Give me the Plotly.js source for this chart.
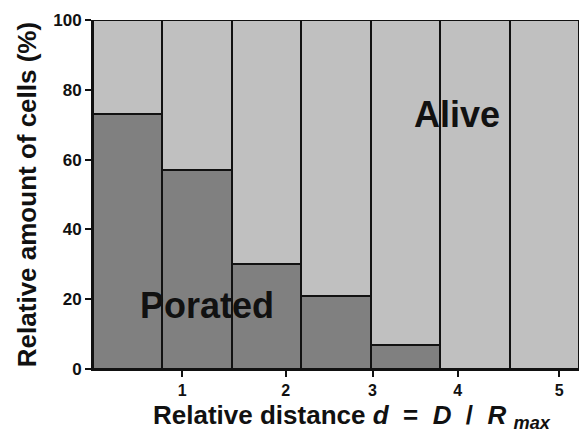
<!DOCTYPE html>
<html>
<head>
<meta charset="utf-8">
<script src="https://cdn.plot.ly/plotly-3.0.1.min.js"></script>
<style>html,body{margin:0;padding:0;background:#fff;}#chart{width:579px;height:433px;}</style>
</head>
<body>
<div id="chart"></div>
<script>
// Bin index of each bar (7 distance bins)
const bins = [0, 1, 2, 3, 4, 5, 6];
// Percent of porated cells per bin
const porated = [73, 57, 30, 21, 7, 0, 0];
// Percent of alive cells per bin (remainder to 100%)
const alive = [27, 43, 70, 79, 93, 100, 100];
// x tick labels and where they fall on the bin scale
const xTickText = ['1', '2', '3', '4', '5'];
const xTickPos = [0.784, 2.275, 3.526, 4.753, 6.214];
const yTicks = [0, 20, 40, 60, 80, 100];

const font = 'Liberation Sans, Arial, sans-serif';

const traces = [
  {
    type: 'bar', x: bins, y: porated, width: 1,
    marker: {color: '#808080', line: {color: '#111', width: 2}},
    hoverinfo: 'skip', name: 'Porated'
  },
  {
    type: 'bar', x: bins, y: alive, width: 1,
    marker: {color: '#c0c0c0', line: {color: '#111', width: 2}},
    hoverinfo: 'skip', name: 'Alive'
  }
];

const layout = {
  width: 579, height: 433,
  margin: {l: 93, r: 0, t: 20, b: 64},
  barmode: 'stack', bargap: 0,
  showlegend: false,
  paper_bgcolor: '#ffffff', plot_bgcolor: '#ffffff',
  font: {family: font, color: '#111'},
  xaxis: {
    range: [-0.5, 6.5],
    tickmode: 'array', tickvals: xTickPos, ticktext: xTickText,
    ticks: 'outside', ticklen: 6, tickwidth: 2, tickcolor: '#111',
    tickfont: {family: font, size: 16, color: '#111', weight: 'bold'},
    showgrid: false, zeroline: false,
    showline: true, linecolor: '#111', linewidth: 2
  },
  yaxis: {
    range: [0, 100],
    tickmode: 'array', tickvals: yTicks,
    ticks: 'outside', ticklen: 6, tickwidth: 2, tickcolor: '#111',
    tickfont: {family: font, size: 17, color: '#111', weight: 'bold'},
    showgrid: false, zeroline: false,
    showline: true, linecolor: '#111', linewidth: 2,
    title: {
      text: 'Relative amount of cells (%)',
      font: {family: font, size: 26, color: '#111', weight: 'bold'},
      standoff: 9
    }
  },
  annotations: [
    {
      text: 'Relative distance <i>d</i>  =  <i>D</i>  /  <i>R</i> <sub><i>max</i></sub>',
      xref: 'paper', yref: 'paper', x: 0.533, y: -0.137,
      xanchor: 'center', yanchor: 'middle', showarrow: false,
      font: {family: font, size: 26, color: '#111', weight: 'bold'}
    },
    {
      text: 'Alive', xref: 'paper', yref: 'y', x: 0.749, y: 73,
      xanchor: 'center', yanchor: 'middle', showarrow: false,
      font: {family: font, size: 36, color: '#111', weight: 'bold'}
    },
    {
      text: 'Porated', xref: 'paper', yref: 'y', x: 0.235, y: 18.2,
      xanchor: 'center', yanchor: 'middle', showarrow: false,
      font: {family: font, size: 36, color: '#111', weight: 'bold'}
    }
  ]
};

Plotly.newPlot('chart', traces, layout, {displayModeBar: false, staticPlot: true});
</script>
</body>
</html>
